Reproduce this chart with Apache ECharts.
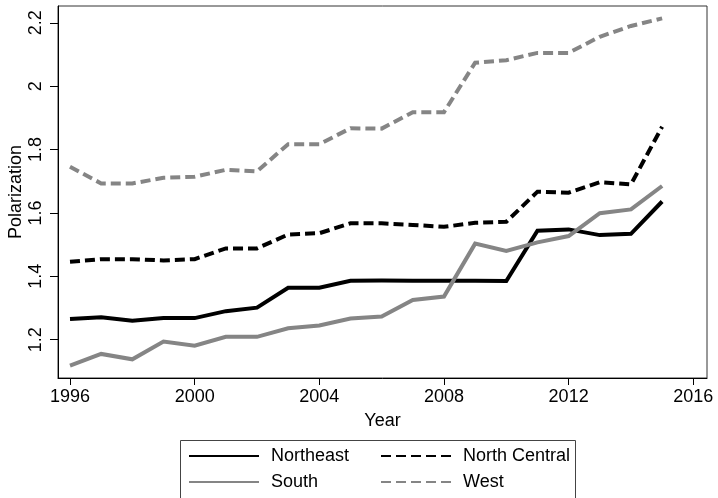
<!DOCTYPE html>
<html>
<head>
<meta charset="utf-8">
<script src="https://cdn.jsdelivr.net/npm/echarts@6/dist/echarts.min.js"></script>
<style>
html,body{margin:0;padding:0;background:#fff;}
#chart{width:718px;height:498px;}
</style>
</head>
<body>
<div id="chart"></div>
<script>
const years = [1996,1997,1998,1999,2000,2001,2002,2003,2004,2005,2006,2007,2008,2009,2010,2011,2012,2013,2014,2015];
const northeast = [1.265,1.271,1.260,1.268,1.268,1.290,1.301,1.364,1.364,1.386,1.387,1.386,1.386,1.386,1.385,1.544,1.548,1.530,1.534,1.636];
const northCentral = [1.446,1.454,1.454,1.450,1.454,1.488,1.488,1.532,1.536,1.567,1.567,1.562,1.556,1.569,1.572,1.667,1.664,1.697,1.690,1.872];
const south = [1.118,1.155,1.138,1.194,1.181,1.209,1.209,1.236,1.245,1.267,1.273,1.325,1.336,1.503,1.480,1.507,1.527,1.599,1.611,1.685];
const west = [1.746,1.693,1.693,1.711,1.714,1.736,1.731,1.817,1.817,1.867,1.866,1.918,1.918,2.074,2.082,2.105,2.105,2.156,2.190,2.214];
const xTicks = [1996,2000,2004,2008,2012,2016];
const yTicks = [1.2,1.4,1.6,1.8,2,2.2];

const GRAY = '#858585';
const FONT = 'Liberation Sans, Arial, Helvetica, sans-serif';
const pairs = arr => years.map((y,i) => [y, arr[i]]);

const chart = echarts.init(document.getElementById('chart'), null, {renderer:'canvas'});
function mk(name, data, color, dashed){
  return {
    name, type:'line', data: pairs(data), symbol:'none', showSymbol:false,
    lineStyle:{color, width:4, type: dashed ? [10,5] : 'solid', cap:'butt', join:'miter'},
    itemStyle:{color},
    emphasis:{disabled:true}, animation:false
  };
}
const legendCommon = {
  orient:'vertical', top:446, padding:0, height:60, itemHeight:14, itemGap:6,
  itemStyle:{color:'rgba(0,0,0,0)', borderWidth:0, opacity:0},
  selectedMode:false
};
chart.setOption({
  animation:false,
  backgroundColor:'#fff',
  textStyle:{fontFamily:FONT},
  grid:{left:58, top:6, right:11, bottom:120, show:true, borderColor:'#333', borderWidth:1, containLabel:false, outerBoundsMode:'none'},
  xAxis:{
    type:'value', min:1995.615, max:2016.44,
    name:'Year', nameLocation:'middle', nameGap:34, nameMoveOverlap:false,
    nameTextStyle:{fontSize:18, color:'#000', fontFamily:FONT},
    axisLine:{show:true, onZero:false, lineStyle:{color:'#000', width:1}},
    axisTick:{show:true, length:7, customValues:xTicks, lineStyle:{color:'#000'}},
    axisLabel:{customValues:xTicks, fontSize:18, color:'#000', margin:10, fontFamily:FONT, formatter:v=>String(v)},
    splitLine:{show:false}
  },
  yAxis:{
    type:'value', min:1.079, max:2.253,
    name:'Polarization', nameLocation:'middle', nameGap:33, nameRotate:90, nameMoveOverlap:false,
    nameTextStyle:{fontSize:18, color:'#000', fontFamily:FONT},
    axisLine:{show:true, onZero:false, lineStyle:{color:'#000', width:1}},
    axisTick:{show:true, length:8, customValues:yTicks, lineStyle:{color:'#000'}},
    axisLabel:{customValues:yTicks, fontSize:18, color:'#000', rotate:90, margin:13, fontFamily:FONT, formatter:v=>String(v)},
    splitLine:{show:false}
  },
  legend:[
    Object.assign({}, legendCommon, {data:['Northeast','South'], left:188, itemWidth:70,
     textStyle:{fontSize:18, lineHeight:20, color:'#000', fontFamily:FONT, padding:[0,0,0,7]}}),
    Object.assign({}, legendCommon, {data:['North Central','West'], left:380, itemWidth:72,
     textStyle:{fontSize:18, lineHeight:20, color:'#000', fontFamily:FONT, padding:[0,0,0,5]}})
  ],
  graphic:[{type:'rect', shape:{x:180.5, y:440.5, width:395, height:80}, style:{fill:'none', stroke:'#444', lineWidth:1}, z:-1, silent:true}],
  series:[
    mk('Northeast', northeast, '#000', false),
    mk('North Central', northCentral, '#000', true),
    mk('South', south, GRAY, false),
    mk('West', west, GRAY, true)
  ]
});
</script>
</body>
</html>
